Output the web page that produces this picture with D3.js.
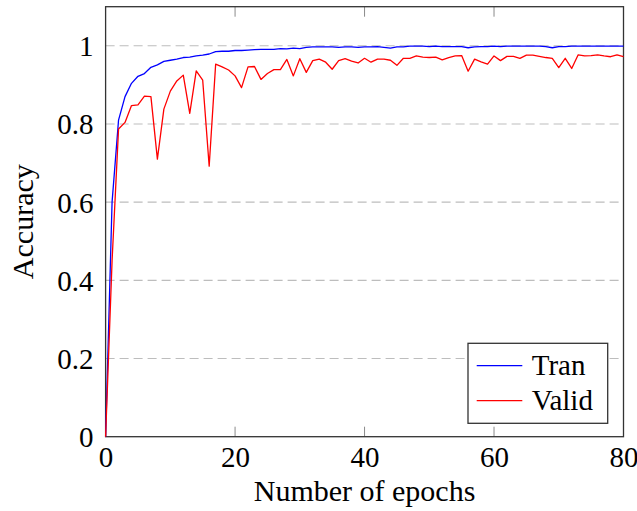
<!DOCTYPE html>
<html>
<head>
<meta charset="utf-8">
<script src="https://cdn.jsdelivr.net/npm/d3@7"></script>
<style>
    body { margin: 0; background: #fff; }
    text { font-family: "Liberation Serif", "Times New Roman", serif; fill: #000; }
</style>
</head>
<body>
<script>
// epochs 0..80
const epochs = d3.range(0, 81);

const trainAcc = [
    0.000, 0.600, 0.810, 0.870, 0.904, 0.922, 0.929, 0.945, 0.951, 0.960,
    0.963, 0.966, 0.970, 0.971, 0.974, 0.976, 0.979, 0.985, 0.986, 0.986,
    0.988, 0.988, 0.989, 0.990, 0.991, 0.991, 0.991, 0.993, 0.992, 0.994,
    0.993, 0.996, 0.997, 0.997, 0.997, 0.997, 0.996, 0.997, 0.997, 0.996,
    0.997, 0.997, 0.998, 0.996, 0.994, 0.997, 0.997, 0.999, 0.999, 0.999,
    0.998, 0.999, 0.998, 0.998, 0.998, 0.998, 0.995, 0.997, 0.998, 0.998,
    0.999, 0.998, 0.999, 0.999, 0.999, 0.999, 0.999, 0.999, 0.998, 0.995,
    0.998, 0.998, 0.999, 0.999, 0.999, 0.999, 0.999, 0.999, 0.999, 0.999,
    0.999
];

const validAcc = [
    0.000, 0.450, 0.787, 0.804, 0.847, 0.849, 0.871, 0.870, 0.710, 0.838,
    0.884, 0.910, 0.925, 0.827, 0.936, 0.912, 0.692, 0.953, 0.946, 0.938,
    0.923, 0.893, 0.946, 0.947, 0.914, 0.929, 0.939, 0.939, 0.965, 0.923,
    0.967, 0.932, 0.962, 0.966, 0.958, 0.940, 0.962, 0.967, 0.961, 0.956,
    0.968, 0.958, 0.966, 0.966, 0.963, 0.950, 0.968, 0.968, 0.974, 0.971,
    0.970, 0.971, 0.964, 0.970, 0.974, 0.975, 0.935, 0.966, 0.959, 0.953,
    0.974, 0.962, 0.973, 0.973, 0.968, 0.976, 0.976, 0.973, 0.970, 0.968,
    0.944, 0.968, 0.942, 0.977, 0.974, 0.975, 0.977, 0.974, 0.972, 0.977,
    0.972
];

const xTicks = [0, 20, 40, 60, 80];
const yTicks = [0, 0.2, 0.4, 0.6, 0.8, 1];
const seriesNames = ["Tran", "Valid"];

const plotLeft = 105.6, plotRight = 623.5, plotTop = 6.7, plotBottom = 436.7;

const svg = d3.select("body").append("svg")
    .attr("width", 637)
    .attr("height", 511);

const x = d3.scaleLinear().domain([0, 80]).range([plotLeft, plotRight]);
const y = d3.scaleLinear().domain([0, 1.1]).range([plotBottom, plotTop]);

// horizontal dashed grid
svg.append("g")
    .selectAll("line")
    .data(yTicks.filter(function (d) { return d > 0; }))
    .enter()
    .append("line")
    .attr("x1", plotLeft)
    .attr("x2", plotRight)
    .attr("y1", function (d) { return y(d); })
    .attr("y2", function (d) { return y(d); })
    .attr("stroke", "#bdbdbd")
    .attr("stroke-width", 1.1)
    .attr("stroke-dasharray", "9,5");

// inward ticks, bottom and top
const tickG = svg.append("g")
    .attr("stroke", "#8a8a8a")
    .attr("stroke-width", 1);

tickG.selectAll("line.b")
    .data(xTicks.slice(1, -1))
    .enter()
    .append("line")
    .attr("class", "b")
    .attr("x1", function (d) { return x(d); })
    .attr("x2", function (d) { return x(d); })
    .attr("y1", plotBottom)
    .attr("y2", plotBottom - 10);

tickG.selectAll("line.t")
    .data(xTicks.slice(1, -1))
    .enter()
    .append("line")
    .attr("class", "t")
    .attr("x1", function (d) { return x(d); })
    .attr("x2", function (d) { return x(d); })
    .attr("y1", plotTop)
    .attr("y2", plotTop + 10);

// frame
svg.append("rect")
    .attr("x", plotLeft)
    .attr("y", plotTop)
    .attr("width", plotRight - plotLeft)
    .attr("height", plotBottom - plotTop)
    .attr("fill", "none")
    .attr("stroke", "#333")
    .attr("stroke-width", 1.3);

// tick labels via axis generators
const xAxis = svg.append("g")
    .attr("transform", "translate(0," + plotBottom + ")")
    .call(d3.axisBottom(x).tickValues(xTicks).tickSize(0).tickPadding(0).tickFormat(d3.format("d")));
xAxis.select(".domain").remove();
xAxis.selectAll("text")
    .attr("y", 30)
    .attr("dy", null)
    .style("font-size", "29px")
    .style("font-family", "Liberation Serif, serif");

const yAxis = svg.append("g")
    .attr("transform", "translate(" + plotLeft + ",0)")
    .call(d3.axisLeft(y).tickValues(yTicks).tickSize(0).tickPadding(12).tickFormat(function (d) {
        return d === 0 || d === 1 ? String(d) : d.toFixed(1);
    }));
yAxis.select(".domain").remove();
yAxis.selectAll("text")
    .attr("dy", "0.34em")
    .style("font-size", "29px")
    .style("font-family", "Liberation Serif, serif");

// axis titles
svg.append("text")
    .attr("x", (plotLeft + plotRight) / 2)
    .attr("y", 501)
    .attr("text-anchor", "middle")
    .style("font-size", "30px")
    .text("Number of epochs");

svg.append("text")
    .attr("transform", "translate(33," + ((plotTop + plotBottom) / 2) + ") rotate(-90)")
    .attr("text-anchor", "middle")
    .style("font-size", "30px")
    .text("Accuracy");

// curves
const line = d3.line()
    .x(function (d) { return x(d[0]); })
    .y(function (d) { return y(d[1]); });

const series = [
    {name: seriesNames[0], color: "#0000ff", values: trainAcc},
    {name: seriesNames[1], color: "#ff0000", values: validAcc}
];

svg.append("g")
    .selectAll("path")
    .data(series)
    .enter()
    .append("path")
    .attr("fill", "none")
    .attr("stroke", function (d) { return d.color; })
    .attr("stroke-width", 1.3)
    .attr("stroke-linejoin", "round")
    .attr("d", function (d) {
        return line(epochs.map(function (e, i) { return [e, d.values[i]]; }));
    });

// legend
const legend = svg.append("g")
    .attr("transform", "translate(468,343.3)");

legend.append("rect")
    .attr("width", 139.7)
    .attr("height", 80)
    .attr("fill", "#fff")
    .attr("stroke", "#333")
    .attr("stroke-width", 1.3);

const item = legend.selectAll("g")
    .data(series)
    .enter()
    .append("g")
    .attr("transform", function (d, i) {
        return "translate(0," + (22.4 + i * 35) + ")";
    });

item.append("line")
    .attr("x1", 8.7)
    .attr("x2", 54.3)
    .attr("stroke", function (d) { return d.color; })
    .attr("stroke-width", 1.3);

item.append("text")
    .attr("x", 63.7)
    .attr("y", 9)
    .style("font-size", "29px")
    .text(function (d) { return d.name; });
</script>
</body>
</html>
